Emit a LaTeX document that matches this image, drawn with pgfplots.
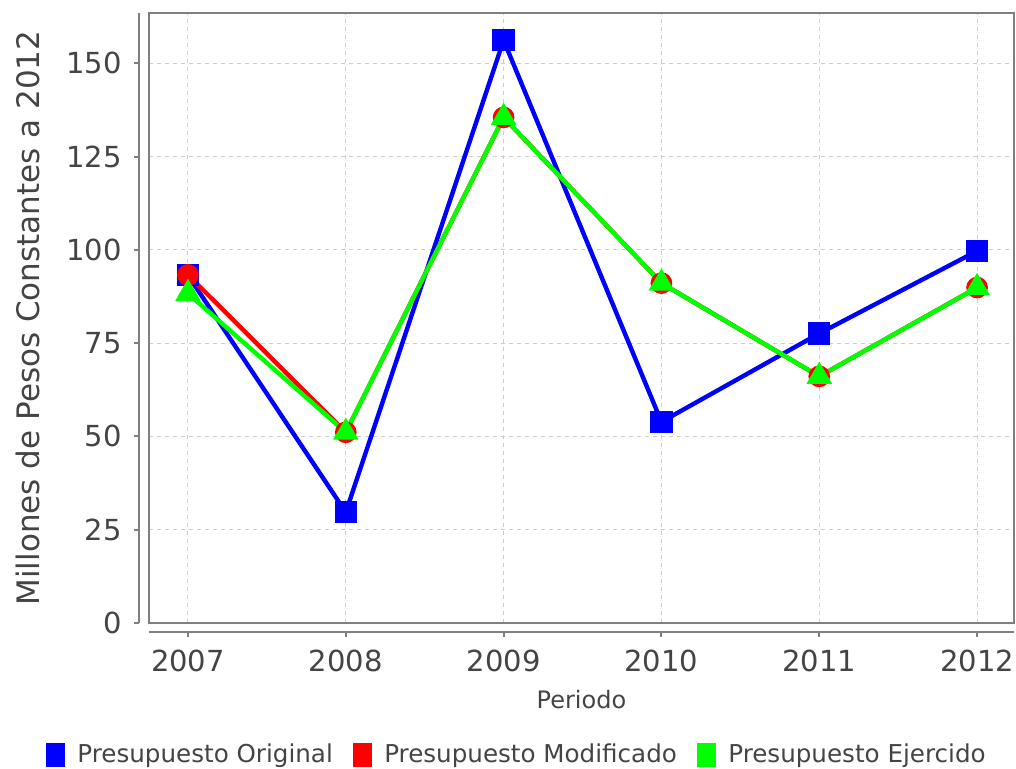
\documentclass[border=0pt]{standalone}
\usepackage{pgfplots}
\pgfplotsset{compat=1.18}
\usepackage{fontspec}
\setmainfont{DejaVu Sans}
\definecolor{jblue}{RGB}{0,0,255}
\definecolor{jred}{RGB}{255,0,0}
\definecolor{jgreen}{RGB}{0,255,0}
\definecolor{framegray}{RGB}{128,128,128}
\definecolor{gridgray}{RGB}{205,205,205}
\definecolor{txt}{RGB}{68,68,68}
\begin{document}
\begin{tikzpicture}
\begin{axis}[
  scale only axis, width=432.5pt, height=305pt,
  xmin=2006.753, xmax=2012.234, ymin=0, ymax=163.5,
  xtick={2007,2008,2009,2010,2011,2012},
  xticklabels={2007,2008,2009,2010,2011,2012},
  ytick={0,25,50,75,100,125,150},
  major tick length=0pt,
  grid=major,
  major grid style={gridgray, dash pattern=on 2pt off 2pt, line width=0.5pt},
  axis line style={framegray, line width=1pt},
  tick label style={font=\fontsize{14.5}{17}\selectfont, text=txt, inner sep=0pt},
  /pgf/number format/assume math mode=true,
  yticklabel style={anchor=east, xshift=-13.5pt},
  xticklabel style={anchor=north, yshift=-13.5pt},
  every axis y label/.style={at={(axis description cs:-0.1399,0.5)}, rotate=90, anchor=center, font=\fontsize{15.5}{18}\selectfont, text=txt},
  every axis x label/.style={at={(axis description cs:0.5,0)}, anchor=center, yshift=-38.5pt, font=\fontsize{12}{14}\selectfont, text=txt},
  ylabel={Millones de Pesos Constantes a 2012},
  xlabel={Periodo},
  legend style={at={(axis description cs:0.4264,-0.2164)}, anchor=center, draw=none, fill=none,
    font=\fontsize{12.3}{14}\selectfont, text=txt,
    /tikz/every even column/.append style={column sep=8pt}},
  legend columns=3,
  legend cell align=left,
  clip=false,
]
\addplot[jblue, line width=2.2pt, mark=square*, mark size=4.5pt, mark options={solid},
  legend image code/.code={\fill[jblue] (0pt,-5pt) rectangle (7.5pt,5pt);}]
  coordinates {(2007,93.2)(2008,29.7)(2009,156.2)(2010,53.9)(2011,77.6)(2012,99.7)};
\addlegendentry{\hspace{4pt}Presupuesto Original}
\addplot[jred, line width=2.2pt, mark=*, mark size=4.3pt, mark options={solid},
  legend image code/.code={\fill[jred] (0pt,-5pt) rectangle (7.5pt,5pt);}]
  coordinates {(2007,93.3)(2008,51.1)(2009,135.5)(2010,91.1)(2011,66.1)(2012,89.9)};
\addlegendentry{\hspace{4pt}Presupuesto Modificado}
\addplot[jgreen, line width=2.2pt, mark=triangle*, mark size=5.2pt, mark options={solid},
  legend image code/.code={\fill[jgreen] (0pt,-5pt) rectangle (7.5pt,5pt);}]
  coordinates {(2007,88.3)(2008,51.1)(2009,135.5)(2010,91.1)(2011,66.1)(2012,89.9)};
\addlegendentry{\hspace{4pt}Presupuesto Ejercido}
\draw[framegray, line width=1pt] ([yshift=-4.5pt]rel axis cs:0,0) -- ([yshift=-4.5pt]rel axis cs:1,0);
\draw[framegray, line width=1pt] ([xshift=-5pt]rel axis cs:0,0) -- ([xshift=-5pt]rel axis cs:0,1);
\pgfplotsinvokeforeach{2007,2008,2009,2010,2011,2012}{
  \draw[framegray, line width=1pt] ([yshift=-4.5pt]axis cs:#1,0) -- ([yshift=-7pt]axis cs:#1,0);
}
\pgfplotsinvokeforeach{0,25,50,75,100,125,150}{
  \draw[framegray, line width=1pt] ([xshift=-5pt]axis cs:2006.753,#1) -- ([xshift=-7.5pt]axis cs:2006.753,#1);
}
\coordinate (bl) at (rel axis cs:0,0);
\coordinate (tr) at (rel axis cs:1,1);
\end{axis}
\pgfresetboundingbox
\useasboundingbox ([xshift=-74.5pt,yshift=-73pt]bl) rectangle ([xshift=1pt,yshift=6.5pt]tr);
\end{tikzpicture}
\end{document}
